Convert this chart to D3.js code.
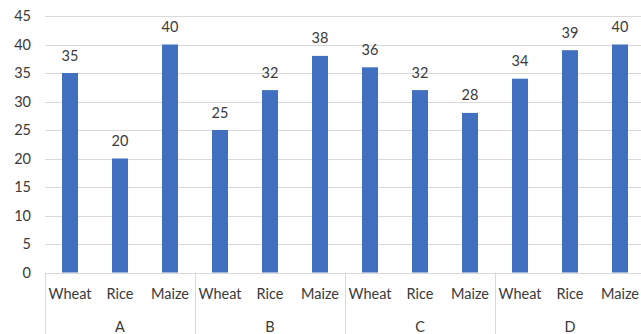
<!DOCTYPE html>
<html>
<head>
<meta charset="utf-8">
<script src="https://cdn.jsdelivr.net/npm/d3@7"></script>
<style>
  html, body { margin: 0; padding: 0; background: #ffffff; }
  svg { display: block; }
  text { font-family: Lato, "Open Sans", sans-serif; fill: #3a3a3a; }
</style>
</head>
<body>
<svg id="chart" width="641" height="334"></svg>
<script>
// Production by region and crop
const groups = ["A", "B", "C", "D"];
const crops = ["Wheat", "Rice", "Maize"];
const values = [35, 20, 40, 25, 32, 38, 36, 32, 28, 34, 39, 40];
const yTicks = [0, 5, 10, 15, 20, 25, 30, 35, 40, 45];

const rows = [];
groups.forEach((g, gi) => crops.forEach((c, ci) => {
  rows.push({ key: g + "-" + c, group: g, crop: c, value: values[gi * crops.length + ci] });
}));

const svg = d3.select("#chart");
const W = 641, H = 334;
const plotLeft = 45, plotRight = 645, plotTop = 16, plotBottom = 272.5;
const fontSize = "14.5px";

const x = d3.scaleBand()
  .domain(rows.map(d => d.key))
  .range([plotLeft, plotRight])
  .paddingInner(0.68)
  .paddingOuter(0.34);

const y = d3.scaleLinear().domain([0, 45]).range([plotBottom, plotTop]);

// horizontal gridlines
svg.append("g")
  .selectAll("line")
  .data(yTicks.filter(t => t > 0))
  .join("line")
  .attr("x1", plotLeft).attr("x2", W)
  .attr("y1", d => Math.round(y(d)) + 0.5).attr("y2", d => Math.round(y(d)) + 0.5)
  .attr("stroke", "#d9d9d9").attr("stroke-width", 1);

// y-axis labels
const yAxis = d3.axisLeft(y).tickValues(yTicks).tickSize(0).tickPadding(14);
const gy = svg.append("g").attr("transform", `translate(${plotLeft},0)`).call(yAxis);
gy.select(".domain").remove();
gy.selectAll("text").style("font-size", fontSize).attr("fill", "#3a3a3a")
  .style("font-family", "Lato, sans-serif");

// bars
svg.append("g")
  .selectAll("rect")
  .data(rows)
  .join("rect")
  .attr("x", d => x(d.key))
  .attr("width", x.bandwidth())
  .attr("y", d => y(d.value))
  .attr("height", d => y(0) - y(d.value))
  .attr("fill", "#4170c0");

// value labels
svg.append("g")
  .selectAll("text")
  .data(rows)
  .join("text")
  .attr("x", d => x(d.key) + x.bandwidth() / 2)
  .attr("y", d => y(d.value) - 12.5)
  .attr("text-anchor", "middle")
  .style("font-size", fontSize)
  .text(d => d.value);

// category axis line
svg.append("line")
  .attr("x1", plotLeft).attr("x2", W)
  .attr("y1", Math.round(plotBottom) + 0.5).attr("y2", Math.round(plotBottom) + 0.5)
  .attr("stroke", "#d9d9d9");

// crop labels
const xAxis = d3.axisBottom(x).tickSize(0).tickPadding(16)
  .tickFormat(k => rows.find(r => r.key === k).crop);
const gx = svg.append("g").attr("transform", `translate(0,${plotBottom})`).call(xAxis);
gx.select(".domain").remove();
gx.selectAll("text").style("font-size", fontSize).attr("fill", "#3a3a3a")
  .style("font-family", "Lato, sans-serif");

// group separators and group labels
const step = x.step();
const groupStart = gi => x(rows[gi * crops.length].key) - x.paddingOuter() * step;
const groupEnd = gi => groupStart(gi) + crops.length * step;

svg.append("g")
  .selectAll("line")
  .data(d3.range(groups.length))
  .join("line")
  .attr("x1", gi => Math.round(groupStart(gi)) + 0.5)
  .attr("x2", gi => Math.round(groupStart(gi)) + 0.5)
  .attr("y1", plotBottom).attr("y2", H)
  .attr("stroke", "#d9d9d9");

svg.append("g")
  .selectAll("text")
  .data(groups)
  .join("text")
  .attr("x", (g, gi) => (groupStart(gi) + groupEnd(gi)) / 2)
  .attr("y", 332)
  .attr("text-anchor", "middle")
  .style("font-size", fontSize)
  .text(g => g);
</script>
</body>
</html>
